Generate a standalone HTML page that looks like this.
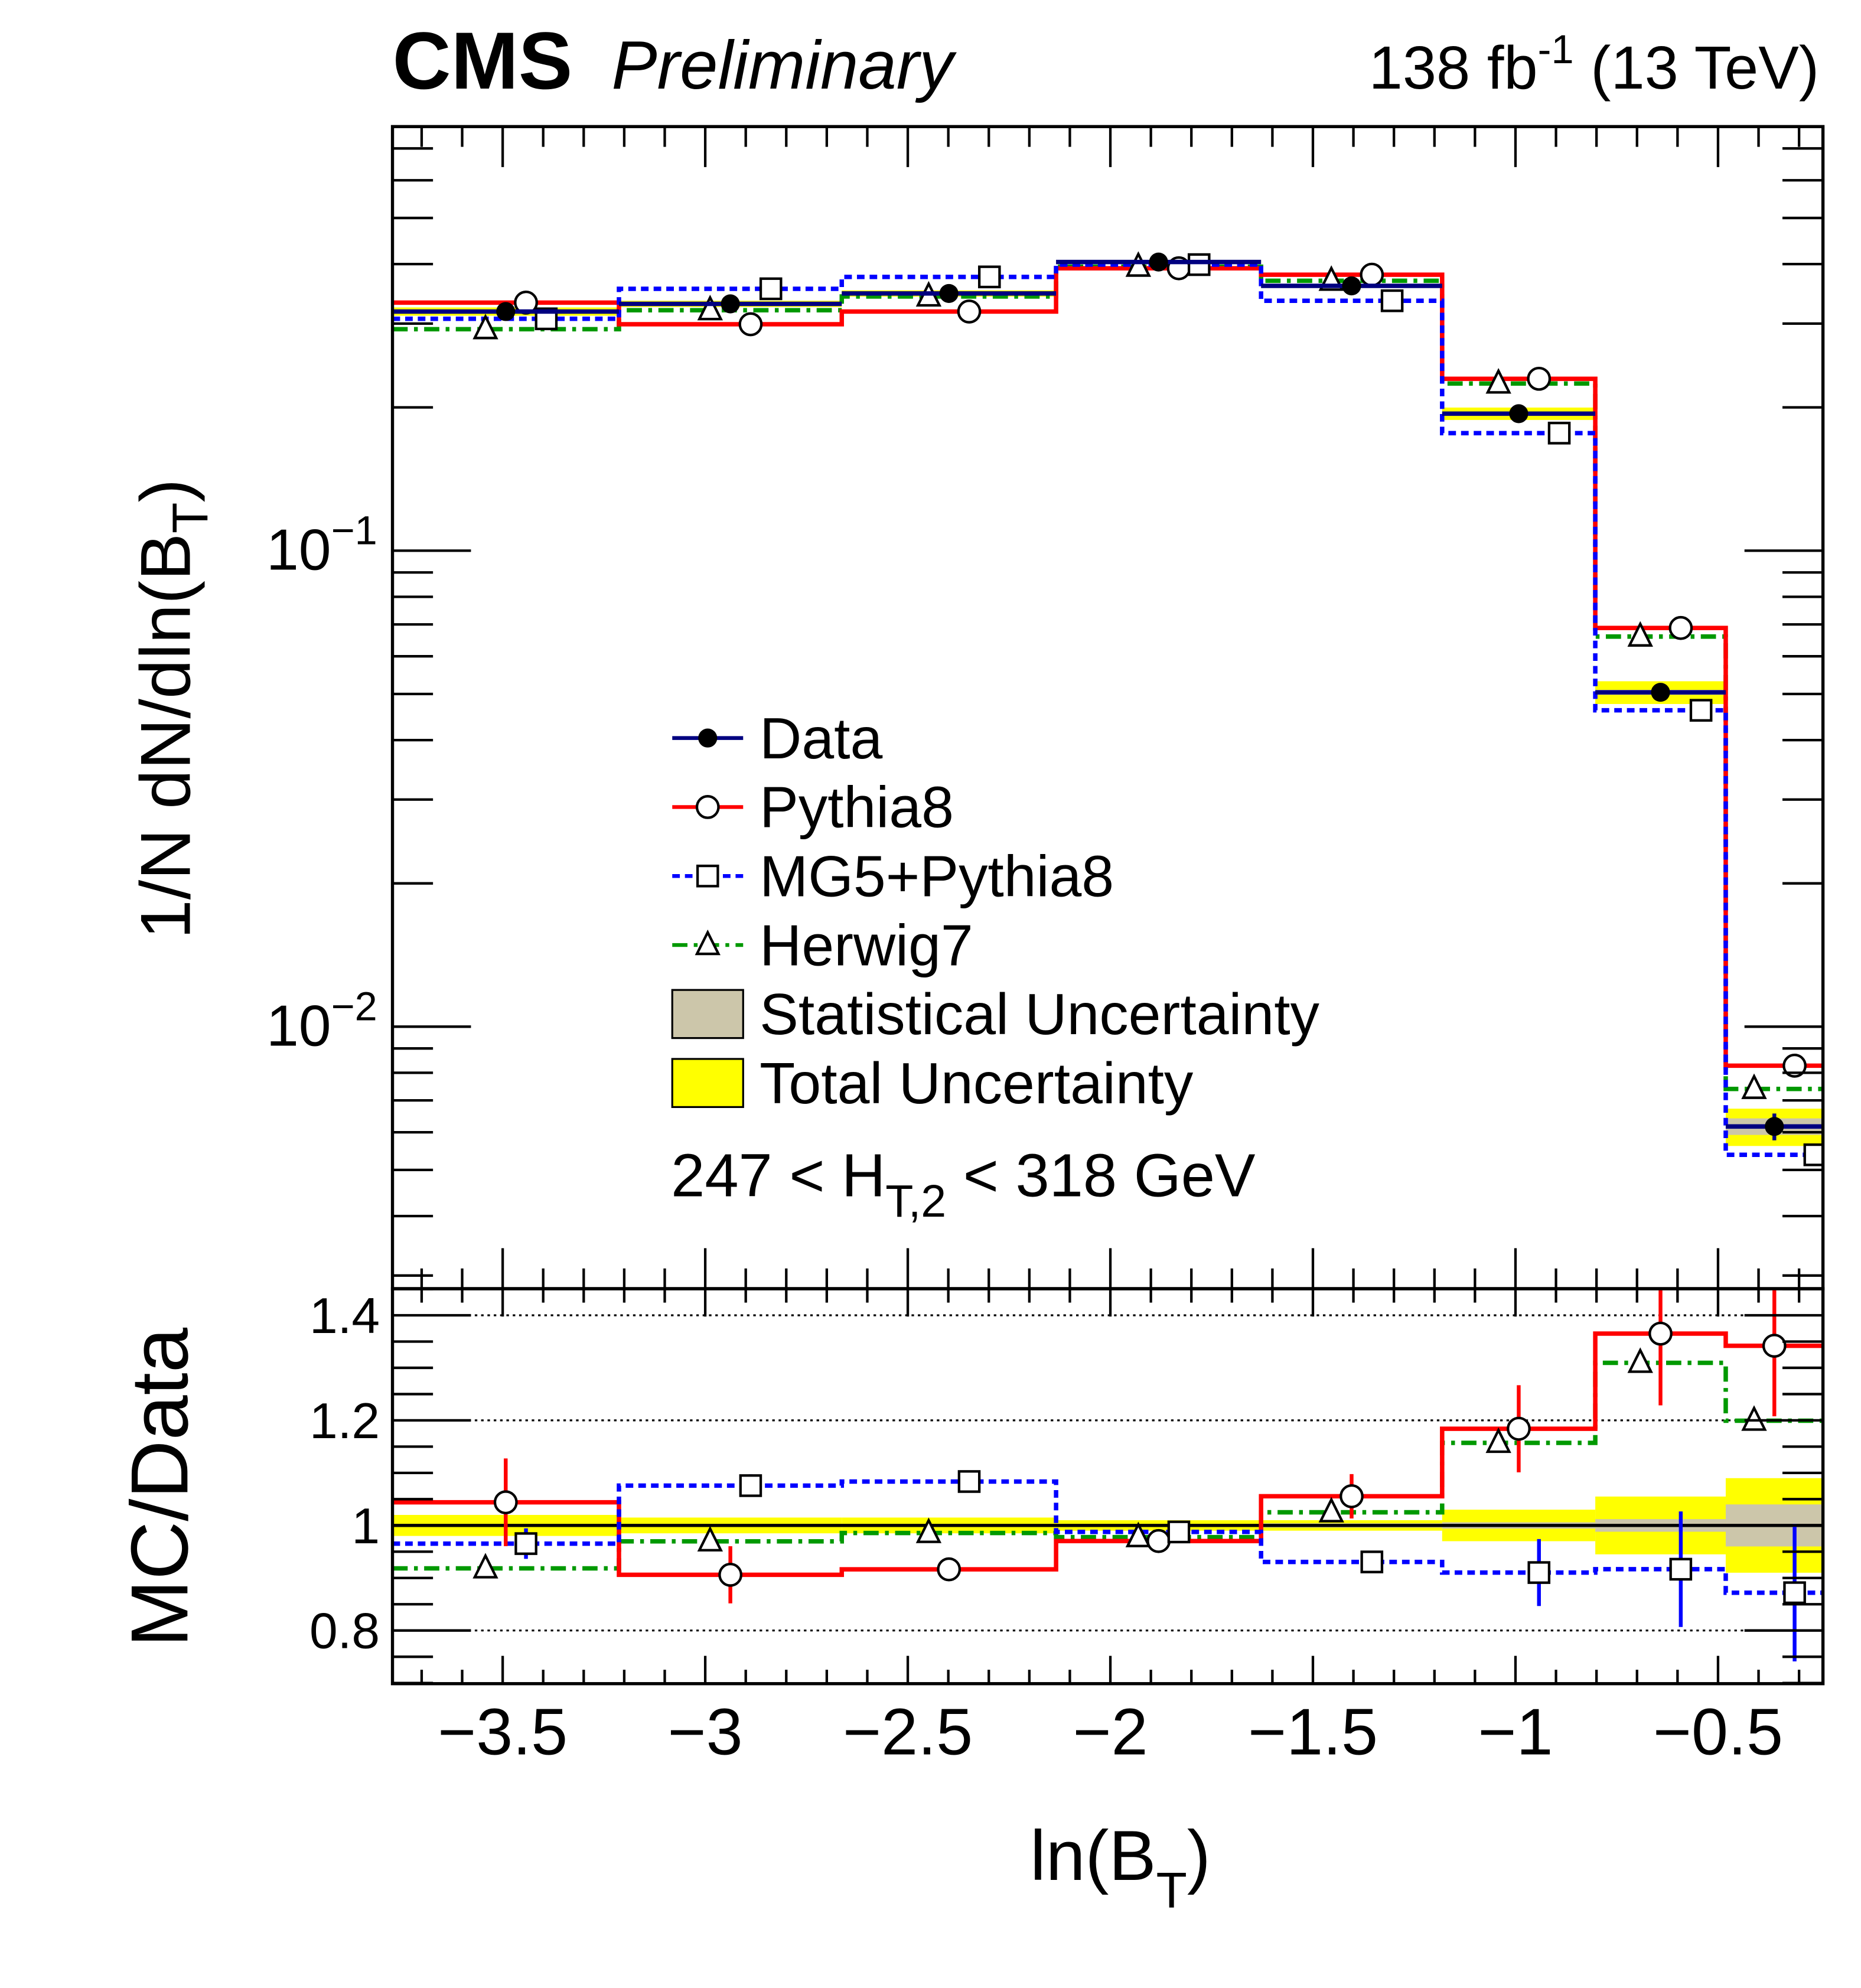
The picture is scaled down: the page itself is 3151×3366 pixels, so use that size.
<!DOCTYPE html>
<html><head><meta charset="utf-8"><style>
html,body{margin:0;padding:0;background:#fff}
svg{display:block}
text{font-family:"Liberation Sans",Arial,sans-serif}
</style></head><body>
<svg id="chart" width="3151" height="3366" viewBox="0 0 1470 1570.4" xmlns="http://www.w3.org/2000/svg">
<text x="310" y="70" font-size="64" font-weight="bold">CMS</text>
<text x="483" y="70" font-size="54" font-style="italic">Preliminary</text>
<text x="1437" y="70" font-size="48" text-anchor="end">138 fb<tspan dy="-20" font-size="32">-1</tspan><tspan dy="20"> (13 TeV)</tspan></text>
<g id="topPanel"></g>
<g id="botPanel"></g>
<g id="legPanel"></g>
<text x="530" y="945" font-size="48">247 &lt; H<tspan dy="16" font-size="36">T,2</tspan><tspan dy="-16"> &lt; 318 GeV</tspan></text>
<text transform="translate(150,560) rotate(-90)" font-size="56" text-anchor="middle">1/N dN/dln(B<tspan dy="14" font-size="40">T</tspan><tspan dy="-14">)</tspan></text>
<text transform="translate(148,1175) rotate(-90)" font-size="64" text-anchor="middle">MC/Data</text>
<text x="885" y="1485" font-size="56" text-anchor="middle">ln(B<tspan dy="22" font-size="40">T</tspan><tspan dy="-22">)</tspan></text>
</svg>
<script>
const edges=[-3.772,-3.213,-2.663,-2.134,-1.628,-1.181,-0.803,-0.481,-0.241];
const dataVals=[0.318,0.330,0.347,0.404,0.360,0.194,0.0504,0.00617];
const dataErr=[0.004,0.004,0.004,0.004,0.004,0.003,0.002,0.0004];
const pythia=[0.332,0.299,0.318,0.392,0.380,0.2297,0.0688,0.00828];
const pythiaRelErr=[0.08,0.06,0.01,0.01,0.04,0.07,0.10,0.10];
const mg5=[0.307,0.355,0.376,0.399,0.335,0.1766,0.0462,0.00538];
const mg5RelErr=[0.03,0.02,0.01,0.01,0.02,0.07,0.12,0.15];
const herwig=[0.292,0.320,0.342,0.395,0.369,0.2245,0.066,0.0074];
const statRel=[0.003,0.003,0.003,0.003,0.004,0.006,0.012,0.04];
const totRel=[0.02,0.015,0.015,0.01,0.01,0.03,0.055,0.09];
const xTicks=[-3.5,-3,-2.5,-2,-1.5,-1,-0.5];
const xTickLabels=["\u22123.5","\u22123","\u22122.5","\u22122","\u22121.5","\u22121","\u22120.5"];
const rTicks=[0.8,1.0,1.2,1.4];
const rTickLabels=["0.8","1","1.2","1.4"];

const NS="http://www.w3.org/2000/svg";
const L=310,R=1440,T=100,MB=1018,B=1330;
const X=v=>L+(v-edges[0])/(edges[edges.length-1]-edges[0])*(R-L);
const Y=v=>435-(Math.log10(v)+1)*376;
const RY=v=>1205-(v-1)*415;
function el(p,tag,a){const e=document.createElementNS(NS,tag);for(const k in a)e.setAttribute(k,a[k]);p.appendChild(e);return e;}
const gTop=document.getElementById('topPanel'),gBot=document.getElementById('botPanel'),gLeg=document.getElementById('legPanel');
const clipT=el(gTop,'clipPath',{id:'ct'});el(clipT,'rect',{x:L,y:T,width:R-L,height:MB-T});
const clipB=el(gBot,'clipPath',{id:'cb'});el(clipB,'rect',{x:L,y:MB,width:R-L,height:B-MB});
const gT=el(gTop,'g',{'clip-path':'url(#ct)'});const gB=el(gBot,'g',{'clip-path':'url(#cb)'});

for(let i=0;i<8;i++){
 const x0=X(edges[i]),x1=X(edges[i+1]),d=dataVals[i];
 let r=el(gT,'rect',{x:x0,y:Y(d*(1+totRel[i])),width:x1-x0,height:Y(d*(1-totRel[i]))-Y(d*(1+totRel[i])),fill:'#ffff00'});
 
 r=el(gT,'rect',{x:x0,y:Y(d*(1+statRel[i])),width:x1-x0,height:Y(d*(1-statRel[i]))-Y(d*(1+statRel[i])),fill:'#ccc6aa'});
 
 r=el(gB,'rect',{x:x0,y:RY(1+totRel[i]),width:x1-x0,height:RY(1-totRel[i])-RY(1+totRel[i]),fill:'#ffff00'});
 
 r=el(gB,'rect',{x:x0,y:RY(1+statRel[i]),width:x1-x0,height:RY(1-statRel[i])-RY(1+statRel[i]),fill:'#ccc6aa'});
 
}
rTicks.forEach(v=>{if(v!==1){const l=el(gB,'line',{x1:L,x2:R,y1:RY(v),y2:RY(v),stroke:'#000','stroke-width':1.5,'stroke-dasharray':'2,3'});
 }});
const one=el(gB,'line',{x1:L,x2:R,y1:RY(1),y2:RY(1),stroke:'#000','stroke-width':2.5});


function hist(g,vals,f,color,dash,name){
 let d='';for(let i=0;i<8;i++){const y=f(vals[i]);d+=(i?'L':'M')+X(edges[i])+','+y+'L'+X(edges[i+1])+','+y;}
 const p=el(g,'path',{d:d,fill:'none',stroke:color,'stroke-width':3.5,'stroke-dasharray':dash});
 
}
const series=[
 {v:herwig,c:'#009900',dash:'12,5,3,5',off:-16,roff:-16,m:'tri',n:'herwig7',err:null},
 {v:pythia,c:'#ff0000',dash:'none',off:16,roff:0,m:'circ',n:'pythia8',err:pythiaRelErr},
 {v:mg5,c:'#0000ff',dash:'6,4',off:32,roff:16,m:'sq',n:'mg5-pythia8',err:mg5RelErr}];
function marker(g,type,x,y,name){
 let e;
 if(type==='circ')e=el(g,'circle',{cx:x,cy:y,r:8.5,fill:'#fff',stroke:'#000','stroke-width':2});
 else if(type==='sq')e=el(g,'rect',{x:x-8,y:y-8,width:16,height:16,fill:'#fff',stroke:'#000','stroke-width':2});
 else if(type==='tri')e=el(g,'path',{d:'M'+x+','+(y-10)+'L'+(x+8.5)+','+(y+7)+'L'+(x-8.5)+','+(y+7)+'Z',fill:'#fff',stroke:'#000','stroke-width':2});
 else e=el(g,'circle',{cx:x,cy:y,r:7.5,fill:'#000'});
 
}
series.forEach(s=>{
 hist(gT,s.v,Y,s.c,s.dash,s.n+'-hist');
 hist(gB,s.v.map((v,i)=>v/dataVals[i]),RY,s.c,s.dash,s.n+'-ratio-hist');
});
series.forEach(s=>{
 for(let i=0;i<8;i++){
  const xm=(X(edges[i])+X(edges[i+1]))/2,xc=xm+s.off,xr=xm+s.roff,v=s.v[i],r=v/dataVals[i];
  if(s.err){
   const e1=el(gT,'line',{x1:xc,x2:xc,y1:Y(v*(1+s.err[i]*0.3)),y2:Y(v*(1-s.err[i]*0.3)),stroke:s.c,'stroke-width':3});
   
   const e2=el(gB,'line',{x1:xr,x2:xr,y1:RY(r*(1+s.err[i])),y2:RY(r*(1-s.err[i])),stroke:s.c,'stroke-width':3});
   
  }
  marker(gT,s.m,xc,Y(v),s.n+'-marker');
  marker(gB,s.m,xr,RY(r),s.n+'-ratio-marker');
 }
});
for(let i=0;i<8;i++){
 const x0=X(edges[i]),x1=X(edges[i+1]),xc=(x0+x1)/2,y=Y(dataVals[i]);
 const h=el(gT,'line',{x1:x0,x2:x1,y1:y,y2:y,stroke:'#000080','stroke-width':3.5});
 
 const e=el(gT,'line',{x1:xc,x2:xc,y1:Y(dataVals[i]+dataErr[i]),y2:Y(dataVals[i]-dataErr[i]),stroke:'#000080','stroke-width':3});
 
 marker(gT,'data',xc,y,'data-point');
}
[[T,MB],[MB,B]].forEach(([a,b],k)=>{const f=el(k?gBot:gTop,'rect',{x:L,y:a,width:R-L,height:b-a,fill:'none',stroke:'#000','stroke-width':2.5});
 });
function tick(g,xa,ya,xb,yb){el(g,'line',{x1:xa,y1:ya,x2:xb,y2:yb,stroke:'#000','stroke-width':2});}
for(let k=-37;k<=-3;k++){const v=k/10;const x=X(v);const maj=(k%5===0);const lt=maj?32:16,lb=maj?22:11;
 tick(gTop,x,MB,x,MB-lt);tick(gTop,x,T,x,T+lt);tick(gBot,x,B,x,B-lb);tick(gBot,x,MB,x,MB+lb);}
xTicks.forEach((v,i)=>{const t=el(gBot,'text',{x:X(v),y:1386,'font-size':52,'text-anchor':'middle'});t.textContent=xTickLabels[i];
 });
for(let dec=-3;dec<=0;dec++)for(let m=1;m<10;m++){const v=m*Math.pow(10,dec);const y=Y(v);if(y<T||y>MB)continue;const lt=m===1?62:32;
 tick(gTop,L,y,L+lt,y);tick(gTop,R,y,R-lt,y);}
[-1,-2].forEach(e=>{const t=el(gTop,'text',{x:298,y:Y(Math.pow(10,e))+15,'font-size':46,'text-anchor':'end'});
 t.appendChild(document.createTextNode('10'));
 const ts=el(t,'tspan',{dy:-20,'font-size':32});ts.textContent='\u2212'+(-e);
 });
for(let k=14;k<=29;k++){const vv=k*0.05;const y=RY(vv);if(y<MB||y>B)continue;const maj=(k%4===0);const lt=maj?62:32;
 tick(gBot,L,y,L+lt,y);tick(gBot,R,y,R-lt,y);}
rTicks.forEach((v,i)=>{const t=el(gBot,'text',{x:300,y:RY(v)+14,'font-size':40,'text-anchor':'end'});t.textContent=rTickLabels[i];
 });
const legItems=[['Data','#000080','none','data'],['Pythia8','#ff0000','none','circ'],['MG5+Pythia8','#0000ff','6,4','sq'],['Herwig7','#009900','12,5,3,5','tri'],['Statistical Uncertainty','#ccc6aa',null,'box'],['Total Uncertainty','#ffff00',null,'box']];
legItems.forEach((it,i)=>{const y=583+i*54.5;
 if(it[3]==='box'){const b=el(gLeg,'rect',{x:531,y:y-19,width:56,height:38,fill:it[1],stroke:'#000','stroke-width':1.5});}
 else{const l=el(gLeg,'line',{x1:531,x2:587,y1:y,y2:y,stroke:it[1],'stroke-width':3,'stroke-dasharray':it[2]});marker(gLeg,it[3],559,y,'legend-marker');}
 const t=el(gLeg,'text',{x:600,y:y+16,'font-size':46});t.textContent=it[0];});
</script>
</body></html>
